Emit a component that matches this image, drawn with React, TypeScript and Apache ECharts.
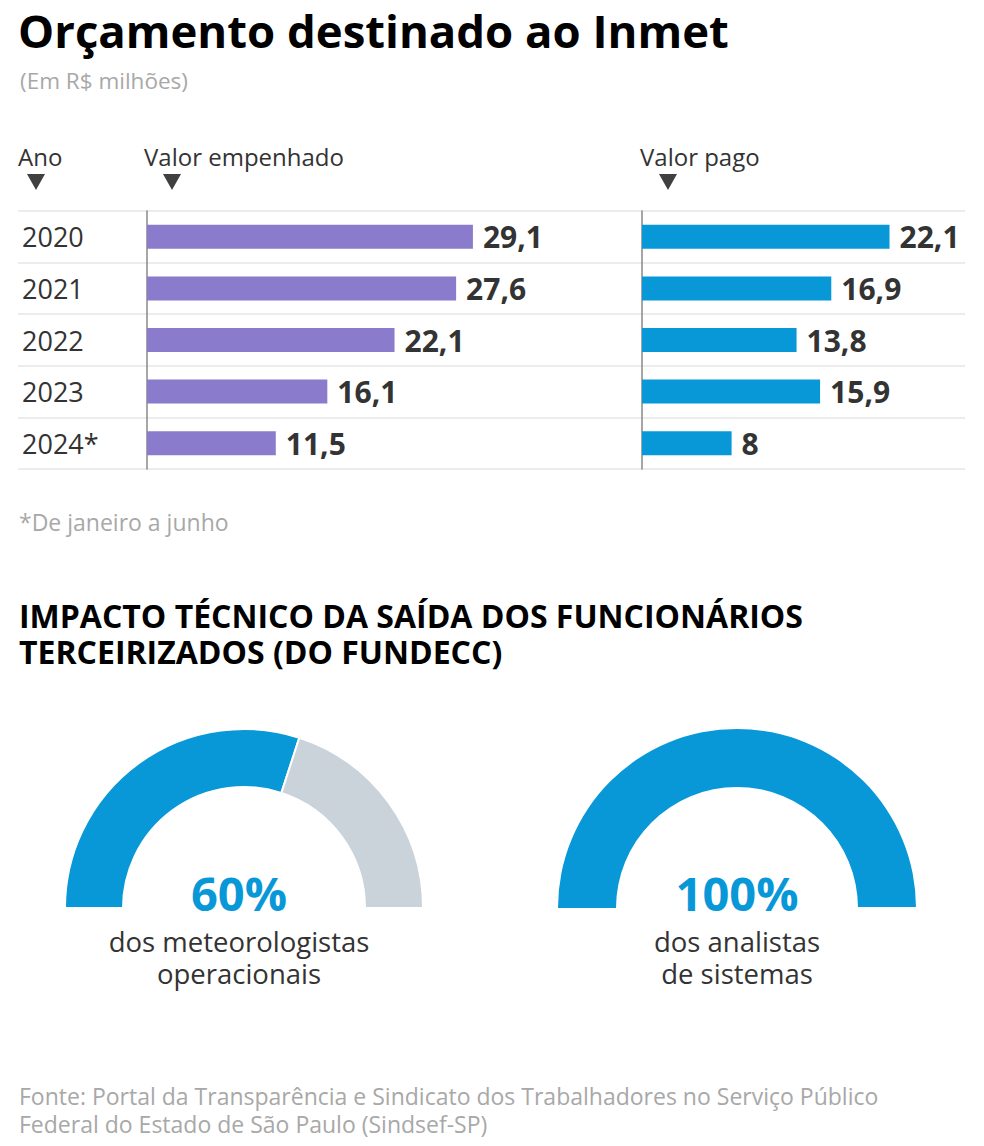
import React, { useEffect, useRef } from "react";
import * as echarts from "echarts";

const years = ["2020", "2021", "2022", "2023", "2024*"];
const empenhado = [29.1, 27.6, 22.1, 16.1, 11.5];
const pago = [22.1, 16.9, 13.8, 15.9, 8];
const gaugeValues = [60, 100];
const gaugeLabels = [
  ["dos meteorologistas", "operacionais"],
  ["dos analistas", "de sistemas"],
];
const headers = ["Ano", "Valor empenhado", "Valor pago"];

const FONT = "'Open Sans', 'Noto Sans', sans-serif";
const PURPLE = "#8b7bcc";
const BLUE = "#0898d8";
const GREY = "#cad2da";
const DARK = "#333333";
const LIGHT = "#a8a8a8";

const fmt = (v: number) => String(v).replace(".", ",");

export default function App() {
  const ref = useRef<HTMLDivElement>(null);
  useEffect(() => {
    document.body.style.margin = "0";
    const chart = echarts.init(ref.current!, null, { renderer: "svg" });

    const rowTop = 211;
    const rowH = 258;
    const pxPerUnit = 11.2;
    const axisMax = 30;
    const gW = pxPerUnit * axisMax;

    const text = (
      x: number,
      y: number,
      t: string,
      size: number,
      color: string,
      weight = "normal",
      align = "left",
      lineHeight?: number
    ) => ({
      type: "text",
      x,
      y,
      style: {
        text: t,
        fontSize: size,
        fontFamily: FONT,
        fontWeight: weight,
        fill: color,
        align,
        verticalAlign: "middle",
        lineHeight: lineHeight ?? Math.round(size * 1.2),
      },
    });

    const tri = (cx: number) => ({
      type: "polygon",
      shape: {
        points: [
          [cx - 9, 174],
          [cx + 9, 174],
          [cx, 190],
        ],
      },
      style: { fill: "#404040" },
    });

    const gaugeCenters = [244, 737];
    const gaugeTextX = [239, 737];

    const graphics: any[] = [
      text(18, 30, "Orçamento destinado ao Inmet", 45.5, "#000", "bold"),
      text(20, 80, "(Em R$ milhões)", 22.5, LIGHT),
      text(18, 156, headers[0], 24, DARK),
      text(144, 156, headers[1], 24, DARK),
      text(640, 156, headers[2], 24, DARK),
      tri(36),
      tri(172),
      tri(668),
      text(19, 522, "*De janeiro a junho", 23, LIGHT),
      text(
        19,
        633,
        "IMPACTO TÉCNICO DA SAÍDA DOS FUNCIONÁRIOS\nTERCEIRIZADOS (DO FUNDECC)",
        32,
        "#000",
        "bold",
        "left",
        36
      ),
      text(
        19,
        1110,
        "Fonte: Portal da Transparência e Sindicato dos Trabalhadores no Serviço Público\nFederal do Estado de São Paulo (Sindsef-SP)",
        23,
        LIGHT,
        "normal",
        "left",
        28
      ),
    ];
    gaugeValues.forEach((v, i) => {
      graphics.push(text(gaugeTextX[i], 893, `${v}%`, 47, BLUE, "bold", "center", 48));
      graphics.push(
        text(gaugeTextX[i], 957, gaugeLabels[i].join("\n"), 27.5, DARK, "normal", "center", 32)
      );
    });

    const barLabel = {
      show: true,
      position: "right",
      distance: 10,
      fontSize: 30,
      fontWeight: "bold",
      fontFamily: FONT,
      color: DARK,
      formatter: (p: any) => fmt(p.value),
    };

    const pies = gaugeValues.map((v, i) => ({
      type: "pie",
      silent: true,
      center: [gaugeCenters[i], 908],
      radius: [121, 179],
      startAngle: 180,
      clockwise: true,
      label: { show: false },
      labelLine: { show: false },
      data: [
        { value: v, itemStyle: { color: BLUE, borderColor: "#fff", borderWidth: v < 100 ? 2 : 0 } },
        { value: 100 - v, itemStyle: { color: GREY, borderColor: "#fff", borderWidth: 2 } },
        { value: 100, itemStyle: { color: "rgba(0,0,0,0)", borderWidth: 0 } },
      ],
    }));

    chart.setOption({
      animation: false,
      backgroundColor: "#fff",
      grid: [
        { left: 18, width: 947, top: rowTop, height: rowH },
        { left: 147, width: gW, top: rowTop, height: rowH },
        { left: 642, width: gW, top: rowTop, height: rowH },
      ],
      xAxis: [
        { gridIndex: 0, type: "value", show: false, min: 0, max: 1 },
        { gridIndex: 1, type: "value", show: false, min: 0, max: axisMax },
        { gridIndex: 2, type: "value", show: false, min: 0, max: axisMax },
      ],
      yAxis: [
        {
          gridIndex: 0,
          type: "category",
          data: years,
          inverse: true,
          axisLine: { show: false },
          axisTick: { show: false },
          splitLine: { show: true, lineStyle: { color: "#e6e6e6", width: 1.5 } },
          axisLabel: {
            inside: true,
            margin: 4,
            fontSize: 27,
            fontFamily: FONT,
            color: DARK,
          },
        },
        {
          gridIndex: 1,
          type: "category",
          data: years,
          inverse: true,
          axisLine: { show: true, lineStyle: { color: "#888", width: 1.5 } },
          axisTick: { show: false },
          axisLabel: { show: false },
        },
        {
          gridIndex: 2,
          type: "category",
          data: years,
          inverse: true,
          axisLine: { show: true, lineStyle: { color: "#888", width: 1.5 } },
          axisTick: { show: false },
          axisLabel: { show: false },
        },
      ],
      series: [
        {
          type: "bar",
          xAxisIndex: 1,
          yAxisIndex: 1,
          data: empenhado,
          barWidth: 24,
          itemStyle: { color: PURPLE },
          label: barLabel,
          silent: true,
        },
        {
          type: "bar",
          xAxisIndex: 2,
          yAxisIndex: 2,
          data: pago,
          barWidth: 24,
          itemStyle: { color: BLUE },
          label: barLabel,
          silent: true,
        },
        ...pies,
      ],
      graphic: graphics,
    });
    return () => chart.dispose();
  }, []);
  return <div ref={ref} style={{ width: 984, height: 1146 }} />;
}
